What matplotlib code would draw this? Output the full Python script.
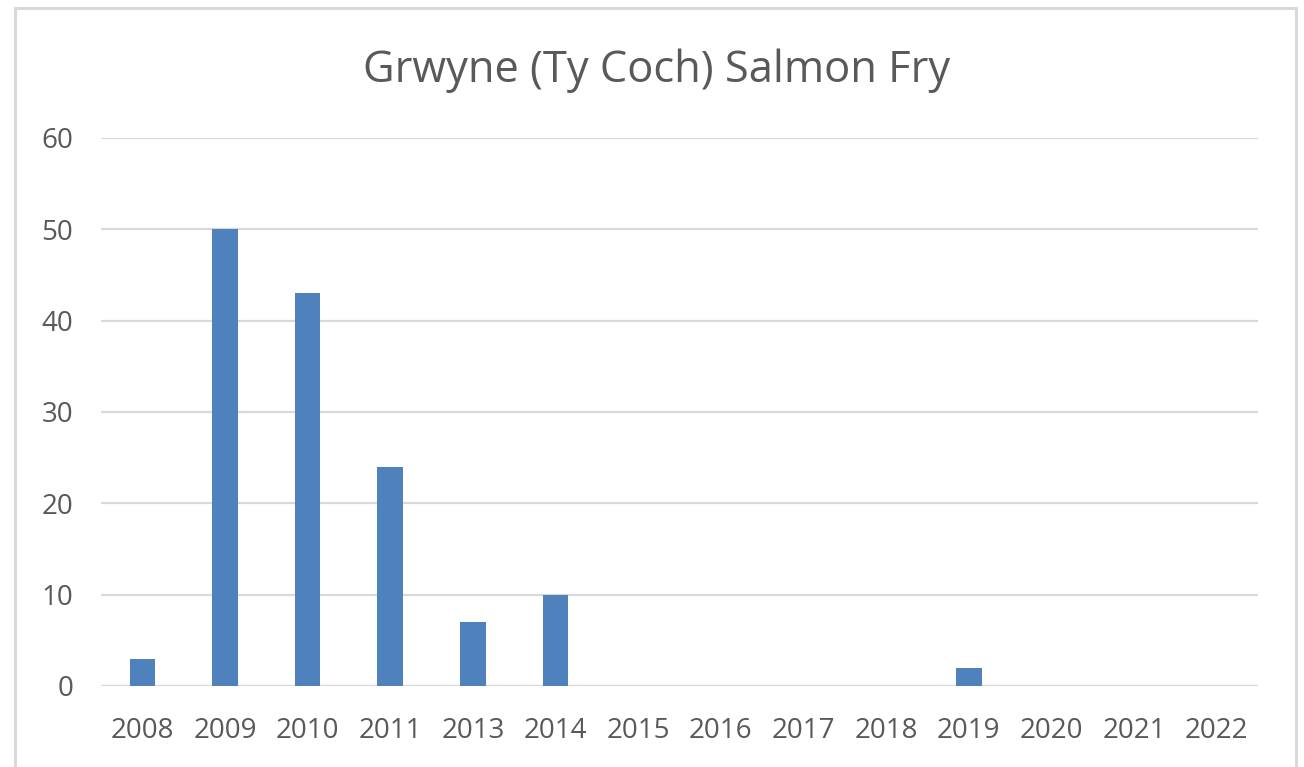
import matplotlib
matplotlib.use("Agg")
import matplotlib.pyplot as plt
from matplotlib.patches import Rectangle

years = ["2008", "2009", "2010", "2011", "2013", "2014", "2015", "2016",
         "2017", "2018", "2019", "2020", "2021", "2022"]
counts = [3, 50, 43, 24, 7, 10, 0, 0, 0, 0, 2, 0, 0, 0]
yticks = [0, 10, 20, 30, 40, 50, 60]

W, H = 1304, 767
fig = plt.figure(figsize=(W / 100, H / 100), dpi=100)
plt.rcParams['font.family'] = ['Open Sans', 'DejaVu Sans']
txt = '#595959'
grid = '#d9d9d9'

ax = fig.add_axes([101 / W, 81 / H, (1258 - 101) / W, (686 - 138) / H])
x = list(range(len(years)))
ax.bar(x, counts, width=0.31, color='#4f81bd', zorder=3)
ax.set_xlim(-0.5, len(years) - 0.5)
ax.set_ylim(0, 60)
ax.set_yticks(yticks)
ax.set_xticks(x)
ax.set_xticklabels(years)
ax.tick_params(axis='both', length=0, labelsize=20, colors=txt)
ax.tick_params(axis='y', pad=20)
ax.tick_params(axis='x', pad=22)
ax.yaxis.grid(True, color=grid, linewidth=1.6, zorder=0)
for s in ax.spines.values():
    s.set_visible(False)
ax.axhline(0, color=grid, linewidth=1.6, zorder=2)

fig.text(657 / W, 1 - 71 / H, "Grwyne (Ty Coch) Salmon Fry", ha='center', va='center',
         fontsize=31.3, color=txt)

fig.add_artist(Rectangle((15 / W, -0.05), (1296 - 15) / W, 1.05 - 8 / H,
                         transform=fig.transFigure, fill=False,
                         edgecolor=grid, linewidth=2.2))

fig.savefig("out.png", dpi=100, facecolor='white')
